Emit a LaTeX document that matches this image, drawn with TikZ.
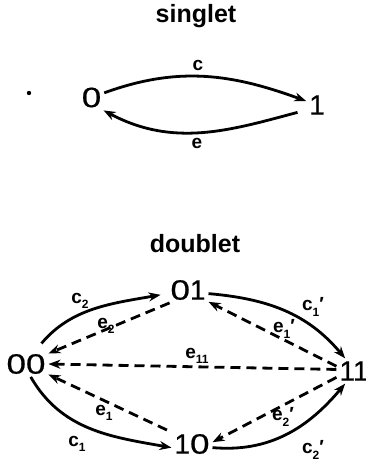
\documentclass[tikz,border=0pt]{standalone}
\usepackage{fontspec}
\usepackage{graphicx}
\setmainfont{Liberation Sans}
\newfontfamily\statefont[FakeBold=0.6]{Liberation Sans}
\usetikzlibrary{arrows.meta}
\newcommand\zz{\scalebox{1.25}[1]{0}}
\newcommand\sbs[1]{\raisebox{-0.3em}{\fontsize{12}{12}\selectfont #1}}
\begin{document}
\begin{tikzpicture}[x=1pt,y=1pt,
  state/.style={inner sep=0pt, outer sep=3pt, font=\statefont\fontsize{28}{28}\selectfont},
  lab/.style={inner sep=0pt, font=\bfseries\fontsize{19}{19}\selectfont},
  ttl/.style={inner sep=0pt, anchor=base, font=\bfseries\fontsize{25}{25}\selectfont},
  sarr/.style={line width=2.8pt, -{Stealth[length=12pt,width=9pt]}},
  darr/.style={line width=2.8pt, dash pattern=on 10pt off 6pt, -{Stealth[length=12pt,width=9pt]}}]
\useasboundingbox (0,0) rectangle (365,461);
% singlet
\node[ttl] (tsing) at (196,438) {singlet};
\fill (29,368) circle (2.2);
\node[state] (s0) at (91.5,363.5) {\zz};
\node[state] (s1) at (317,356) {1};
\draw[sarr] (s0.20) to[out=20,in=160] (s1.160);
\draw[sarr, shorten <=9pt] (s1.205) to[out=195,in=-28] (s0.-47);
\node[lab] (lc) at (198,396) {c};
\node[lab] (le) at (197,318) {e};
% doublet
\node[ttl] (tdoub) at (195,208) {doublet};
\node[state] (d00) at (26,97) {\zz\zz};
\node[state] (d01) at (188,171) {\zz1};
\node[state] (d10) at (192,17) {1\zz};
\node[state] (d11) at (354,90) {11};
\draw[sarr, shorten <=10pt, shorten >=7pt] (d00.55) to[out=50,in=190] (d01.190);
\draw[darr] (d01.215) -- (d00.25);
\draw[darr] (d11.175) -- (d00.0);
\draw[darr, shorten <=5pt] (d10.150) -- (d00.-25);
\draw[sarr] (d00.-70) to[out=-60,in=170] (d10.190);
\draw[sarr] (d01.-10) to[out=-5,in=130] (d11.125);
\draw[darr] (d11.165) -- (d01.-30);
\draw[darr] (d11.-160) -- (d10.5);
\draw[sarr] (d10.-10) to[out=-5,in=-130] (d11.-125);
\node[lab] (lc2) at (80,160) {c\sbs{2}};
\node[lab] (le2) at (106,135) {e\sbs{2}};
\node[lab] (le11) at (197,105) {e\sbs{11}};
\node[lab] (le1) at (104,48) {e\sbs{1}};
\node[lab] (lc1) at (77,17) {c\sbs{1}};
\node[lab] (lc1p) at (313,154) {c\sbs{1}′};
\node[lab] (le1p) at (284,132) {e\sbs{1}′};
\node[lab] (le2p) at (283,44) {e\sbs{2}′};
\node[lab] (lc2p) at (313,11) {c\sbs{2}′};
\end{tikzpicture}
\end{document}
